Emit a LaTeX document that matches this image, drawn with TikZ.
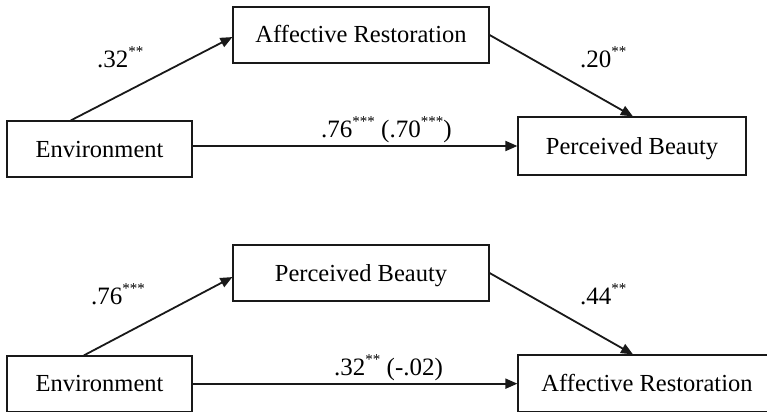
\documentclass[tikz,border=0pt]{standalone}
\usepackage{fontspec}
\setmainfont{Liberation Serif}
\usetikzlibrary{arrows.meta,calc}
\newcommand\sigstar[1]{\raisebox{11pt}{\fontsize{15}{15}\selectfont #1}}
\begin{document}
\begin{tikzpicture}[x=1pt,y=-1pt,
  box/.style={draw=black!90, line width=1.2pt, inner sep=0pt, text height=16pt, text depth=0pt, font=\fontsize{24.5}{28}\selectfont},
  lbl/.style={inner sep=0pt, anchor=base west, font=\fontsize{25}{28}\selectfont},
  arr/.style={draw=black!90, line width=1.8pt, -{Triangle[length=12pt,width=10pt]}}]
\clip (0,0) rectangle (767,412);
\fill[white] (0,0) rectangle (767,412);
% top diagram
\node[box, minimum width=256pt, minimum height=56pt] (ar1) at (361,35) {Affective Restoration};
\node[box, minimum width=185pt, minimum height=56pt] (env1) at (99.5,149) {Environment};
\node[box, minimum width=228pt, minimum height=58pt] (pb1) at (632,146) {Perceived Beauty};
\draw[arr] ($(env1.north west)!0.346!(env1.north east)$) -- ($(ar1.north west)!0.536!(ar1.south west)$);
\draw[arr] (ar1.east) -- ($(pb1.north west)!0.504!(pb1.north east)$);
\draw[arr] (env1.east |- pb1.west) -- (pb1.west);
\node[lbl] (l1) at (97,67) {.32\sigstar{**}};
\node[lbl] (l2) at (580,67) {.20\sigstar{**}};
\node[lbl] (l3) at (321,137) {.76\sigstar{***} (.70\sigstar{***})};
% bottom diagram
\node[box, minimum width=256pt, minimum height=56pt] (pb2) at (361,273) {Perceived Beauty};
\node[box, minimum width=185pt, minimum height=55.3pt] (env2) at (99.5,383.65) {Environment};
\node[box, minimum width=258pt, minimum height=56.3pt] (ar2) at (647,383.15) {Affective Restoration};
\draw[arr] ($(env2.north west)!0.416!(env2.north east)$) -- ($(pb2.north west)!0.571!(pb2.south west)$);
\draw[arr] (pb2.east) -- ($(ar2.north west)!0.446!(ar2.north east)$);
\draw[arr] (env2.east) -- (ar2.west |- env2.east);
\node[lbl] (l4) at (91,304) {.76\sigstar{***}};
\node[lbl] (l5) at (580,304) {.44\sigstar{**}};
\node[lbl] (l6) at (334,375) {.32\sigstar{**} (-.02)};
\end{tikzpicture}
\end{document}
